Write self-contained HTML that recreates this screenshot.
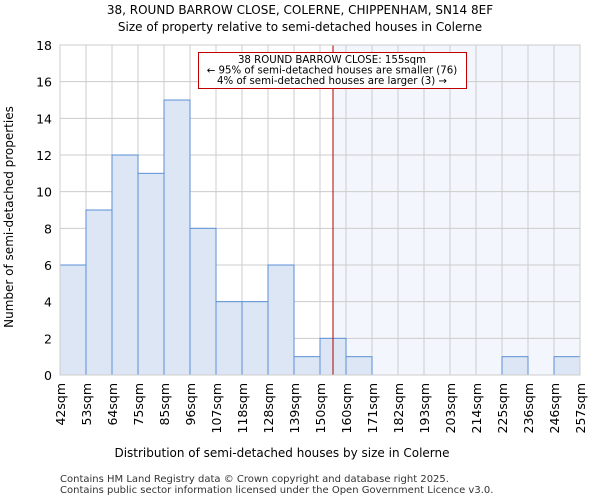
<!DOCTYPE html>
<html><head><meta charset="utf-8"><style>
body{margin:0;background:#fff;font-family:"DejaVu Sans","Liberation Sans",sans-serif;}
svg text{font-family:"DejaVu Sans","Liberation Sans",sans-serif;}
</style></head><body>
<svg id="chart" width="600" height="500" xmlns="http://www.w3.org/2000/svg">
<text x="300" y="14" text-anchor="middle" font-size="12">38, ROUND BARROW CLOSE, COLERNE, CHIPPENHAM, SN14 8EF</text>
<text x="300" y="31" text-anchor="middle" font-size="12">Size of property relative to semi-detached houses in Colerne</text>
<g id="plot"></g>
<text x="282" y="457" text-anchor="middle" font-size="12">Distribution of semi-detached houses by size in Colerne</text>
<text transform="translate(13,217) rotate(-90)" text-anchor="middle" font-size="12">Number of semi-detached properties</text>
<text x="60" y="482" font-size="10" fill="#333">Contains HM Land Registry data © Crown copyright and database right 2025.</text>
<text x="60" y="493" font-size="10" fill="#333">Contains public sector information licensed under the Open Government Licence v3.0.</text>
</svg>
<script>
const labels=["42sqm","53sqm","64sqm","75sqm","85sqm","96sqm","107sqm","118sqm","128sqm","139sqm","150sqm","160sqm","171sqm","182sqm","193sqm","203sqm","214sqm","225sqm","236sqm","246sqm","257sqm"];
const counts=[6,9,12,11,15,8,4,4,6,1,2,1,0,0,0,0,0,1,0,1];
const yTicks=[0,2,4,6,8,10,12,14,16,18];
const markerBin=10.5;
const L=60,R=580,T=45,B=375,yMax=18;
const ns="http://www.w3.org/2000/svg";
const g=document.getElementById('plot');
const n=counts.length,bw=(R-L)/n;
const x=i=>L+i*bw, y=v=>B-(v/yMax)*(B-T);
function mk(t,a){const e=document.createElementNS(ns,t);for(const k in a)e.setAttribute(k,a[k]);g.appendChild(e);return e;}
const mx=x(markerBin);
let sh=mk('rect',{x:mx,y:T,width:R-mx,height:B-T,fill:'#f3f6fd'});


for(const t of yTicks){let l=mk('line',{x1:L,x2:R,y1:y(t),y2:y(t),stroke:'#ccc','stroke-width':1});


let tx=mk('text',{x:L-8,y:y(t)+5,'text-anchor':'end','font-size':12.5});tx.textContent=t;

}
for(let i=0;i<=n;i++){let l=mk('line',{x1:x(i),x2:x(i),y1:T,y2:B,stroke:'#ccc','stroke-width':1});

}
counts.forEach((c,i)=>{if(c<=0)return;let r=mk('rect',{x:x(i),y:y(c),width:bw,height:B-y(c),fill:'#dce6f5',stroke:'#5b8fd6','stroke-width':1});

});
labels.forEach((lb,i)=>{let t=mk('text',{transform:`translate(${x(i)+5},${B+8}) rotate(-90)`,'text-anchor':'end','font-size':12.5});t.textContent=lb;

});
let ml=mk('line',{x1:mx,x2:mx,y1:T,y2:B,stroke:'#b00000','stroke-width':1});


let ab=mk('rect',{x:198.5,y:52.5,width:268,height:36,fill:'#fff',stroke:'#c00000','stroke-width':1});


["38 ROUND BARROW CLOSE: 155sqm","← 95% of semi-detached houses are smaller (76)","4% of semi-detached houses are larger (3) →"].forEach((s,k)=>{let t=mk('text',{x:332,y:63+k*10.5,'text-anchor':'middle','font-size':10.2});t.textContent=s;

});
let fr=mk('rect',{x:L,y:T,width:R-L,height:B-T,fill:'none',stroke:'#ccc','stroke-width':1});


</script>
</body></html>
